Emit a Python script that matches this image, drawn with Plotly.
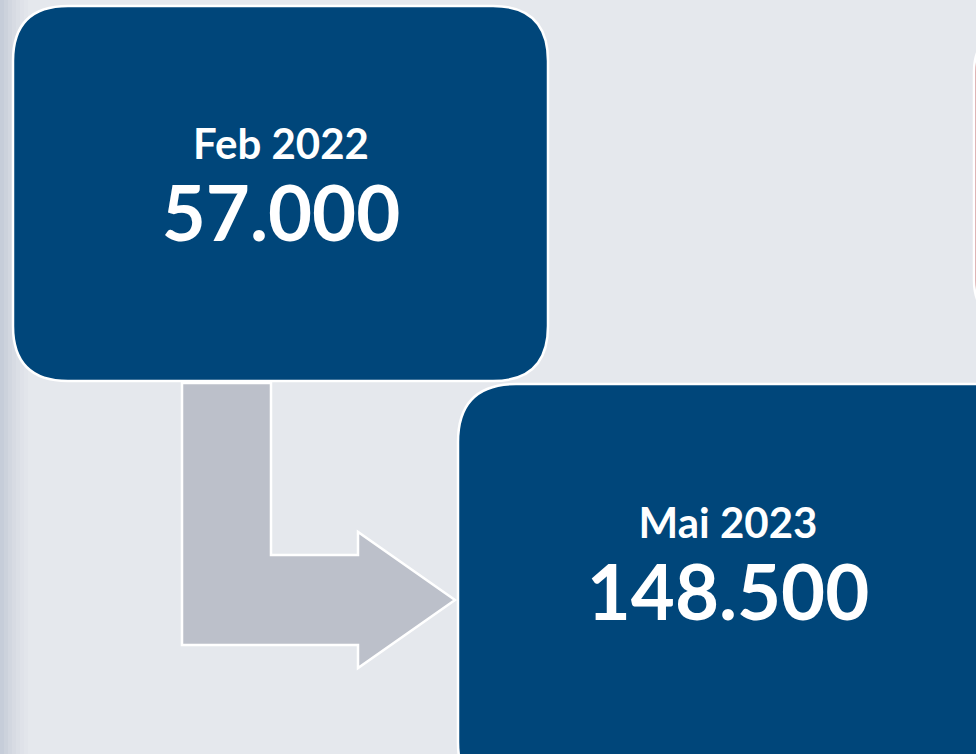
import plotly.graph_objects as go

# data
labels = ["Feb 2022", "Mai 2023"]
values = ["57.000", "148.500"]

W, H = 976, 754
BG = "#e5e8ed"
BOX = "#00467a"
ARROW = "#bcc0ca"


def rounded_box(x0, y0, x1, y1, r):
    # y axis is reversed, so y0 is the top edge
    return (f"M {x0 + r},{y0} L {x1 - r},{y0} Q {x1},{y0} {x1},{y0 + r} "
            f"L {x1},{y1 - r} Q {x1},{y1} {x1 - r},{y1} "
            f"L {x0 + r},{y1} Q {x0},{y1} {x0},{y1 - r} "
            f"L {x0},{y0 + r} Q {x0},{y0} {x0 + r},{y0} Z")


fig = go.Figure()
shapes = []

# left edge shading
edge_cols = ["#c6cdd9", "#ccd2dc", "#d2d7e0", "#d7dbe3", "#dbdfe6", "#dfe2e9", "#e2e5eb"]
for i, c in enumerate(edge_cols):
    shapes.append(dict(type="rect", xref="x", yref="y", x0=i * 4, x1=i * 4 + 4, y0=0, y1=H,
                       fillcolor=c, line=dict(width=0), layer="below"))

# partial box at top right edge
shapes.append(dict(type="path", xref="x", yref="y", layer="below",
                   path=rounded_box(974, 32, 1200, 320, 40),
                   fillcolor="#d59c9c", line=dict(color="white", width=2.5)))

# boxes
boxes = [(13, 6, 548, 381, 55), (458, 384, 1040, 800, 58)]
for x0, y0, x1, y1, r in boxes:
    shapes.append(dict(type="path", xref="x", yref="y", layer="below",
                       path=rounded_box(x0, y0, x1, y1, r),
                       fillcolor=BOX, line=dict(color="white", width=2.5)))

# bent arrow between the boxes
arrow = [(182, 383), (271, 383), (271, 555), (358, 555), (358, 532), (455, 600),
         (358, 668), (358, 645), (182, 645)]
p = "M " + " L ".join(f"{x},{y}" for x, y in arrow) + " Z"
shapes.append(dict(type="path", xref="x", yref="y", path=p, layer="below",
                   fillcolor=ARROW, line=dict(color="white", width=2.5)))

# text
label_pos = [(281, 148), (728, 527)]
value_pos = [(281, 222), (728, 601)]
fig.add_trace(go.Scatter(
    x=[p[0] for p in label_pos], y=[p[1] for p in label_pos],
    mode="text", text=[f"<b>{t}</b>" for t in labels],
    textfont=dict(family="Lato", size=42, color="white"), hoverinfo="skip"))
fig.add_trace(go.Scatter(
    x=[p[0] for p in value_pos], y=[p[1] for p in value_pos],
    mode="text", text=[f"<b>{t}</b>" for t in values],
    textfont=dict(family="Lato", size=76, color="white"), hoverinfo="skip"))

fig.update_layout(
    width=W, height=H,
    margin=dict(l=0, r=0, t=0, b=0),
    paper_bgcolor=BG, plot_bgcolor=BG,
    showlegend=False,
    shapes=shapes,
    xaxis=dict(range=[0, W], visible=False, fixedrange=True),
    yaxis=dict(range=[H, 0], visible=False, fixedrange=True),
)

fig.write_html("out.html", config=dict(displayModeBar=False),
               post_script="document.body.style.margin='0';document.body.style.background='%s';" % BG)
